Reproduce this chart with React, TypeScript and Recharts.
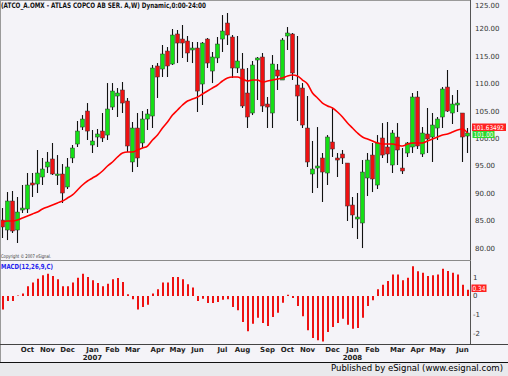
import { ComposedChart, Bar, Line, XAxis, YAxis } from "recharts";

// weekly candles, first week starts Mon 28 Aug 2006
const FIRST_WEEK = { y: 2006, m: 7, d: 28 };

const opens = [
  85.11, 83.29, 88.58, 83.29, 86.94, 87.12, 91.87, 91.68, 92.96, 94.79,
  96.25, 93.33, 93.51, 91.14, 96.43, 98.98, 102.08, 105.0, 98.8, 100.26,
  101.35, 100.62, 105.73, 107.74, 108.84, 106.83, 95.7, 101.9, 99.17, 103.54,
  104.09, 113.22, 112.67, 115.95, 113.58, 119.06, 118.14, 117.78, 116.14, 116.5,
  109.93, 118.14, 112.3, 114.68, 118.14, 121.06, 118.51, 112.85, 112.67, 108.29,
  104.64, 114.31, 114.86, 106.28, 104.64, 112.49, 110.66, 118.69, 119.06, 109.75,
  109.2, 101.9, 93.51, 94.6, 96.43, 93.69, 99.35, 96.43, 97.16, 95.51,
  87.85, 85.3, 84.57, 92.78, 96.97, 91.5, 100.08, 98.44, 95.15, 100.26,
  94.6, 97.34, 98.44, 107.56, 97.16, 100.81, 100.26, 101.9, 103.91, 109.38,
  104.64, 106.1, 104.64, 100.44,
];

const highs = [
  87.3, 90.22, 90.41, 89.31, 91.5, 93.69, 93.69, 97.89, 96.43, 97.52,
  99.17, 96.97, 95.33, 96.43, 98.8, 103.18, 104.27, 106.46, 101.54, 101.72,
  104.64, 110.11, 110.11, 109.2, 110.3, 107.38, 103.0, 104.64, 105.0, 105.37,
  113.4, 113.76, 117.05, 116.68, 119.97, 119.79, 120.7, 118.69, 117.6, 117.6,
  117.6, 118.33, 115.77, 118.51, 122.52, 122.89, 118.87, 118.69, 115.59, 112.85,
  114.13, 114.86, 115.59, 107.56, 115.22, 113.58, 118.33, 120.33, 119.24, 118.69,
  110.11, 107.74, 99.53, 102.08, 97.34, 100.62, 105.55, 97.34, 97.89, 95.51,
  89.31, 90.04, 96.06, 97.34, 99.17, 100.62, 102.81, 103.0, 101.54, 102.81,
  98.25, 99.35, 108.29, 108.65, 102.08, 105.55, 104.64, 103.91, 109.38, 112.49,
  107.92, 108.84, 104.64, 101.9,
];

const lows = [
  81.83, 81.46, 82.74, 80.92, 86.39, 86.39, 89.31, 90.04, 91.5, 93.69,
  93.33, 91.5, 88.22, 90.77, 95.51, 98.44, 101.54, 99.71, 97.34, 98.44,
  99.35, 99.71, 105.19, 103.91, 104.64, 97.52, 93.87, 94.79, 98.25, 101.54,
  101.9, 107.38, 111.21, 111.21, 113.4, 113.76, 114.68, 113.95, 113.76, 104.82,
  106.1, 112.85, 110.11, 113.76, 115.77, 117.05, 111.03, 111.94, 105.55, 101.9,
  104.27, 107.01, 104.82, 101.9, 101.9, 108.84, 110.66, 116.14, 110.66, 103.18,
  101.9, 94.79, 90.04, 90.95, 88.4, 91.5, 96.61, 92.96, 95.33, 84.93,
  83.65, 81.65, 80.0, 89.5, 90.22, 90.77, 96.43, 95.51, 93.69, 95.15,
  93.51, 96.61, 97.34, 98.07, 96.61, 97.34, 95.7, 99.71, 101.9, 104.82,
  102.63, 104.82, 95.7, 97.34,
];

const closes = [
  83.84, 88.58, 83.11, 86.57, 87.3, 91.5, 91.5, 93.69, 94.42, 95.7,
  93.51, 93.51, 90.04, 94.79, 98.25, 101.35, 103.54, 101.35, 99.53, 100.81,
  100.08, 105.37, 108.65, 108.29, 106.46, 98.62, 101.9, 96.43, 103.54, 104.46,
  112.85, 111.21, 115.41, 113.22, 118.87, 117.41, 117.41, 115.59, 116.5, 108.65,
  117.41, 113.76, 114.86, 117.23, 119.6, 118.87, 112.85, 114.13, 105.92, 103.91,
  113.4, 114.68, 105.92, 105.73, 113.58, 111.39, 117.96, 119.24, 111.94, 107.74,
  102.45, 95.7, 94.42, 94.97, 93.87, 100.26, 98.07, 96.06, 96.43, 87.67,
  86.03, 85.66, 93.87, 96.06, 92.6, 99.17, 96.97, 97.16, 100.99, 97.89,
  94.06, 99.17, 107.56, 98.62, 100.99, 99.9, 102.45, 103.54, 109.02, 105.0,
  106.28, 106.46, 100.26, 100.99,
];

const movingAvg = [
  84.75, 84.93, 84.93, 85.11, 85.48, 85.84, 86.21, 86.57, 87.12, 87.49,
  87.85, 88.22, 88.58, 89.13, 89.68, 90.59, 91.5, 92.23, 92.78, 93.33,
  94.06, 94.97, 95.7, 96.61, 97.34, 97.52, 97.52, 97.89, 98.25, 98.62,
  99.71, 100.62, 101.9, 103.0, 104.27, 105.19, 106.1, 106.83, 107.19, 107.56,
  108.11, 108.65, 109.2, 109.75, 110.48, 111.03, 111.21, 111.21, 110.84, 110.48,
  110.66, 110.66, 110.3, 110.48, 110.66, 110.84, 111.03, 111.39, 111.57, 111.39,
  110.66, 109.93, 108.29, 107.38, 106.46, 105.92, 105.55, 104.82, 103.91, 102.81,
  101.9, 100.99, 100.26, 99.9, 99.53, 99.17, 98.98, 98.98, 98.98, 98.8,
  98.62, 98.98, 99.17, 99.17, 99.17, 99.53, 99.9, 100.26, 100.62, 100.81,
  101.17, 101.54, 101.72, 100.99,
];

const macdHist = [
  -0.72, -0.27, -0.27, 0.02, 0.13, 0.52, 0.72, 0.93, 1.11, 1.2,
  1.08, 0.9, 0.52, 0.52, 0.72, 0.98, 1.2, 1.02, 0.84, 0.7,
  0.52, 0.66, 0.9, 0.97, 0.75, 0.09, -0.18, -0.72, -0.59, -0.47,
  0.13, 0.36, 0.72, 0.72, 1.02, 1.02, 0.9, 0.63, 0.45, -0.27,
  -0.15, -0.38, -0.38, -0.32, -0.2, -0.18, -0.59, -0.77, -1.4, -1.9,
  -1.49, -1.17, -1.45, -1.61, -1.13, -0.9, -0.36, 0.07, -0.11, -0.54,
  -1.09, -1.84, -2.26, -2.38, -2.44, -1.94, -1.67, -1.45, -1.22, -1.54,
  -1.76, -1.72, -1.17, -0.54, -0.23, 0.36, 0.61, 0.81, 1.15, 1.15,
  0.84, 0.98, 1.6, 1.33, 1.25, 1.08, 1.11, 1.15, 1.47, 1.34,
  1.25, 1.15, 0.61, 0.34,
];

const priceTicks = [80, 85, 90, 95, 100, 105, 110, 115, 120, 125];
const macdTicks = [-2, -1, 0, 1];
const macdDomain = [-2.58, 1.88];
const monthNames = ["Jan", "Feb", "Mar", "Apr", "May", "Jun", "Jul", "Aug", "Sep", "Oct", "Nov", "Dec"];

const BG = "#f4f3f8";
const GREEN = "#14e014";
const RED = "#ee1111";

const fridayOf = (i: number) =>
  new Date(Date.UTC(FIRST_WEEK.y, FIRST_WEEK.m, FIRST_WEEK.d + 7 * i + 4));

const rows = opens.map((o, i) => ({
  i,
  open: o,
  high: highs[i],
  low: lows[i],
  close: closes[i],
  range: [lows[i], highs[i]],
  ma: movingAvg[i],
  macd: macdHist[i],
}));

// a tick at the week that holds the first trading day of each month
const monthTicks = rows
  .map((r) => r.i)
  .filter((i) => i > 0 && fridayOf(i).getUTCMonth() !== fridayOf(i - 1).getUTCMonth());

const Candle = (props: any) => {
  const { x, y, width, height, payload } = props;
  if (!payload) return null;
  const { open, close, high, low } = payload;
  const cx = x + width / 2;
  const k = height / (high - low);
  const yOf = (v: number) => y + (high - v) * k;
  const top = yOf(Math.max(open, close));
  const bot = yOf(Math.min(open, close));
  return (
    <g>
      <line x1={cx} x2={cx} y1={y} y2={y + height} stroke="#111" strokeWidth={1.1} />
      <rect
        x={cx - 2}
        y={top}
        width={4}
        height={Math.max(bot - top, 1.5)}
        fill={close >= open ? GREEN : RED}
        stroke="#333"
        strokeWidth={0.5}
      />
    </g>
  );
};

const PriceTick = (props: any) => {
  const { x, y, payload } = props;
  return (
    <text x={x + 3} y={Math.max(y, 5)} dy={2.5} fontSize={7} fill="#333" fontFamily="DejaVu Sans">
      {payload.value.toFixed(2)}
    </text>
  );
};

const MonthTick = (props: any) => {
  const { x, payload } = props;
  const d = fridayOf(payload.value);
  const m = d.getUTCMonth();
  return (
    <g fontFamily="DejaVu Sans" fontSize={7} fontWeight="bold" fill="#222" textAnchor="middle">
      <text x={x} y={91}>{monthNames[m]}</text>
      {m === 0 && <text x={x} y={99}>{d.getUTCFullYear()}</text>}
    </g>
  );
};

// MACD panel: plot from y=261, 83 px tall
const MACD_TOP = 261;
const MACD_H = 83;
const macdY = (v: number) => MACD_TOP + ((macdDomain[1] - v) / (macdDomain[1] - macdDomain[0])) * MACD_H;

export default function App() {
  return (
    <div
      style={{
        position: "fixed",
        left: 0,
        top: 0,
        width: 508,
        height: 376,
        background: BG,
        overflow: "hidden",
      }}
    >
      <div style={{ position: "absolute", left: 0, top: 0 }}>
        <ComposedChart width={508} height={260} data={rows} margin={{ top: 1, right: 0, left: 0, bottom: 5 }}>
          <XAxis dataKey="i" hide />
          <YAxis
            orientation="right"
            width={38}
            domain={[78.73, 125.08]}
            allowDataOverflow
            ticks={priceTicks}
            interval={0}
            axisLine={false}
            tickLine={false}
            tickSize={0}
            tick={<PriceTick />}
          />
          <Bar dataKey="range" shape={<Candle />} isAnimationActive={false} />
          <Line dataKey="ma" type="monotone" stroke="#ff0000" strokeWidth={1.6} dot={false} isAnimationActive={false} />
        </ComposedChart>
      </div>

      <div style={{ position: "absolute", left: 0, top: MACD_TOP }}>
        <ComposedChart width={508} height={MACD_H + 18} data={rows} margin={{ top: 0, right: 0, left: 0, bottom: 0 }}>
          <XAxis
            dataKey="i"
            ticks={monthTicks}
            interval={0}
            axisLine={false}
            tickLine={false}
            tickSize={0}
            height={18}
            tick={<MonthTick />}
          />
          <YAxis orientation="right" width={38} domain={macdDomain} allowDataOverflow tick={false} axisLine={false} tickLine={false} />
          <Bar dataKey="macd" fill={RED} barSize={2} isAnimationActive={false} />
        </ComposedChart>
      </div>

      <svg
        width={508}
        height={376}
        style={{ position: "absolute", left: 0, top: 0, pointerEvents: "none" }}
        fontFamily="DejaVu Sans"
      >
        <line x1={0} x2={471} y1={0.5} y2={0.5} stroke="#9a9a9a" />
        <line x1={0.5} x2={0.5} y1={0} y2={362} stroke="#9a9a9a" />
        <line x1={470.5} x2={470.5} y1={0} y2={344} stroke="#555" />
        <line x1={0} x2={471} y1={260.5} y2={260.5} stroke="#8a8a8a" />
        <line x1={0} x2={508} y1={344.5} y2={344.5} stroke="#444" />
        <rect x={0} y={362} width={508} height={14} fill="#e9e9ec" />
        <line x1={0} x2={508} y1={362.5} y2={362.5} stroke="#111" />

        {macdTicks.map((t) => (
          <text key={t} x={473} y={macdY(t) + 2.5} fontSize={7} fill="#333">
            {String(t)}
          </text>
        ))}

        <text x={1} y={8} fontSize={7.5} fontWeight="bold" fill="#111" textLength={205} lengthAdjust="spacingAndGlyphs">
          (ATCO_A.OMX - ATLAS COPCO AB SER. A,W) Dynamic,0:00-24:00
        </text>
        <text x={1} y={258} fontSize={5} fill="#333" textLength={50} lengthAdjust="spacingAndGlyphs">
          Copyright © 2007 eSignal.
        </text>
        <text x={1} y={269} fontSize={7} fontWeight="bold" fill="#2222ee" textLength={52} lengthAdjust="spacingAndGlyphs">
          MACD(12,26,9,C)
        </text>

        <rect x={472} y={123.5} width={34} height={7.5} fill="#f22" />
        <text x={473} y={129.5} fontSize={6.5} fill="#fff" textLength={31} lengthAdjust="spacingAndGlyphs">
          101.63492
        </text>
        <rect x={472.5} y={131} width={22} height={7} fill="#2ed82e" />
        <text x={473.5} y={136.8} fontSize={7} fill="#fff" textLength={20} lengthAdjust="spacingAndGlyphs">
          101.00
        </text>
        <rect x={471.5} y={284.5} width={15} height={7.5} fill="#f22" />
        <text x={472.5} y={290.5} fontSize={7} fill="#fff" textLength={13} lengthAdjust="spacingAndGlyphs">
          0.34
        </text>

        <text x={331} y={371} fontSize={9.5} fill="#000" textLength={172} lengthAdjust="spacingAndGlyphs">
          Published by eSignal (www.esignal.com)
        </text>
      </svg>
    </div>
  );
}
